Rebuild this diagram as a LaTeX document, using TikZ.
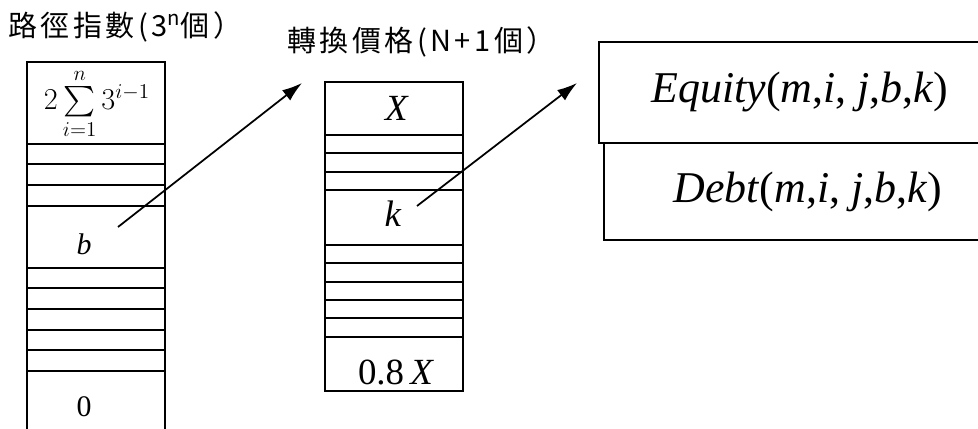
\documentclass[tikz,border=0pt]{standalone}
\usepackage{fontspec}
\usepackage{amsmath}
\newfontfamily\cjk[LetterSpace=12]{Noto Sans CJK TC}
\newfontfamily\tnr{Liberation Serif}
\usetikzlibrary{arrows.meta,positioning}

\begin{document}
\begin{tikzpicture}[
    x=0.02cm, y=-0.02cm,
    title/.style={anchor=west, inner sep=0pt, font=\cjk\fontsize{16.5}{19}\selectfont},
    cell/.style={inner sep=0pt, font=\tnr\fontsize{17}{20}\selectfont},
    bigcell/.style={inner sep=0pt, font=\tnr\fontsize{21}{24}\selectfont},
    box/.style={rectangle, draw, line width=0.9pt, inner sep=0pt, font=\tnr\fontsize{25}{29}\selectfont},
    colline/.style={line width=0.9pt},
    sepline/.style={line width=0.8pt},
    arrow/.style={-{Latex[length=4mm,width=2.6mm]}, line width=1pt}
]
    \useasboundingbox (0,0) rectangle (978,429);

    % titles
    \node[title] (pathtitle) at (8,27) {路徑指數(3\textsuperscript{n}個）};
    \node[title] (pricetitle) at (287,42) {轉換價格(N+1個）};

    % path index column
    \draw[colline] (27,435) |- (165,62) -- (165,435);
    \foreach \y in {144,164,185,206,268,288,309,330,350,371}
        \draw[sepline] (27,\y) -- (165,\y);
    \node[cell, font=\fontsize{18}{21}\selectfont] (sumlabel) at (97,104) {$2\sum\limits_{i=1}^{n}3^{i-1}$};
    \node[cell] (blabel) at (84,244) {\textit{b}};
    \node[cell] (zerolabel) at (84,407) {0};

    % conversion price column
    \draw[colline] (325,82) rectangle (463,391);
    \foreach \y in {135,153,172,190,245,263,282,300,318,337}
        \draw[sepline] (325,\y) -- (463,\y);
    \node[bigcell] (xlabel) at (397,108) {\textit{X}};
    \node[bigcell] (klabel) at (393,214) {\textit{k}};
    \node[bigcell] (lowlabel) at (396,372) {0.8\,\textit{X}};

    % value boxes
    \node[box, minimum width=8.04cm, minimum height=2.02cm] (equity) at (800,92.5)
        {\textit{Equity}(\textit{m},\textit{i}, \textit{j},\textit{b},\textit{k})};
    \node[box, minimum width=8.16cm, minimum height=1.94cm] (debt) at (808,191.5)
        {\textit{Debt}(\textit{m},\textit{i}, \textit{j},\textit{b},\textit{k})};

    % arrows
    \coordinate (bfrom) at (118,227);
    \coordinate (bto) at (302,83);
    \coordinate (kfrom) at (417,206);
    \coordinate (kto) at (577,83);
    \draw[arrow] (bfrom) -- (bto);
    \draw[arrow] (kfrom) -- (kto);
\end{tikzpicture}
\end{document}
